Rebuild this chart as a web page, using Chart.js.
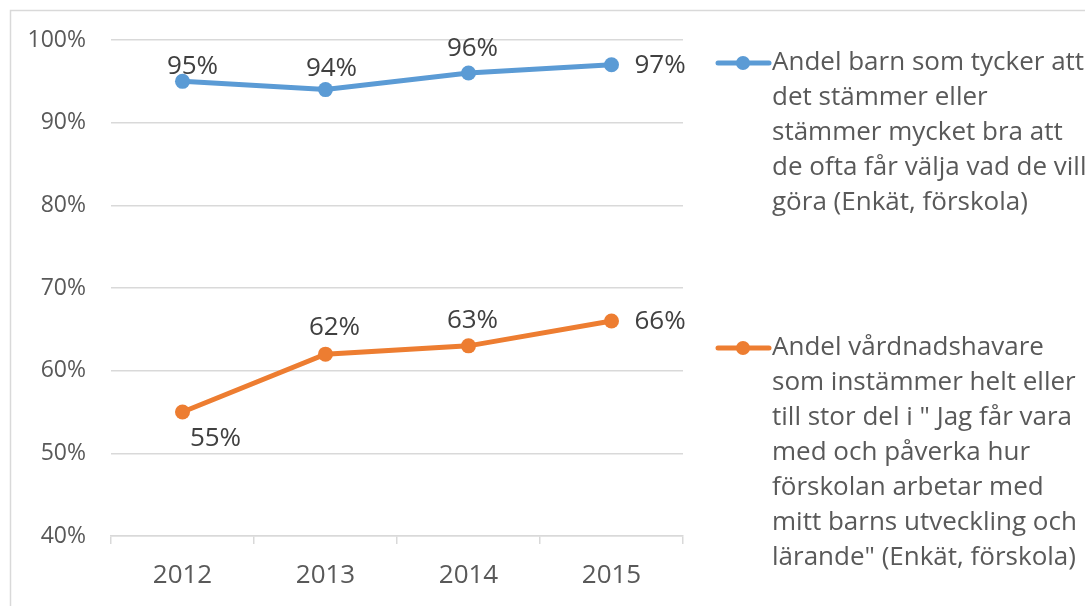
<!DOCTYPE html>
<html>
<head>
<meta charset="utf-8">
<script src="https://cdn.jsdelivr.net/npm/chart.js@4/dist/chart.umd.min.js"></script>
<style>
  html, body { margin: 0; padding: 0; background: #ffffff; }
  #wrap { width: 1085px; height: 606px; position: relative; }
</style>
</head>
<body>
<div id="wrap"><canvas id="c" width="1085" height="606"></canvas></div>
<script>
// ---- data ----
const categories = ['2012', '2013', '2014', '2015'];
const childrenValues = [95, 94, 96, 97];
const guardianValues = [55, 62, 63, 66];
const yTicks = [40, 50, 60, 70, 80, 90, 100];
const childrenLabel = [
  'Andel barn som tycker att',
  'det stämmer eller',
  'stämmer mycket bra att',
  'de ofta får välja vad de vill',
  'göra (Enkät, förskola)'
];
const guardianLabel = [
  'Andel vårdnadshavare',
  'som instämmer helt eller',
  'till stor del i " Jag får vara',
  'med och påverka hur',
  'förskolan arbetar med',
  'mitt barns utveckling och',
  'lärande" (Enkät, förskola)'
];

// ---- styles ----
const FONT = '"Open Sans", "Noto Sans", sans-serif';
const BLUE = '#5B9BD5';
const ORANGE = '#ED7D31';
const GRID = '#d9d9d9';
const TEXT = '#595959';
const LABEL = '#404040';

// label placement per point (style only): pixel offsets from the point
const labelPlacement = [
  [{dx:10, dy:-15, align:'center'}, {dx:6, dy:-21, align:'center'}, {dx:4, dy:-24, align:'center'}, {dx:23, dy:1, align:'left'}],
  [{dx:33, dy:27, align:'center'}, {dx:9, dy:-27, align:'center'}, {dx:4, dy:-25, align:'center'}, {dx:23, dy:1, align:'left'}]
];
const legendAnchors = [63, 348];

const framePlugin = {
  id: 'frame',
  beforeDraw(chart) {
    const ctx = chart.ctx;
    ctx.save();
    ctx.fillStyle = '#ffffff';
    ctx.fillRect(0, 0, chart.width, chart.height);
    ctx.strokeStyle = GRID;
    ctx.lineWidth = 1.5;
    ctx.strokeRect(10.5, 10.5, chart.width + 50, chart.height + 50);
    ctx.restore();
  }
};

const dataLabelPlugin = {
  id: 'dataLabels',
  afterDatasetsDraw(chart) {
    const ctx = chart.ctx;
    ctx.save();
    ctx.font = '26px ' + FONT;
    ctx.fillStyle = LABEL;
    ctx.textBaseline = 'middle';
    chart.data.datasets.forEach((ds, di) => {
      const meta = chart.getDatasetMeta(di);
      meta.data.forEach((pt, i) => {
        const p = labelPlacement[di][i];
        ctx.textAlign = p.align;
        ctx.fillText(ds.data[i] + '%', pt.x + p.dx, pt.y + p.dy);
      });
    });
    ctx.restore();
  }
};

const legendPlugin = {
  id: 'sideLegend',
  afterDraw(chart) {
    const ctx = chart.ctx;
    ctx.save();
    chart.data.datasets.forEach((ds, di) => {
      const y0 = legendAnchors[di];
      ctx.strokeStyle = ds.borderColor;
      ctx.lineWidth = 5;
      ctx.lineCap = 'round';
      ctx.beginPath();
      ctx.moveTo(718, y0);
      ctx.lineTo(769, y0);
      ctx.stroke();
      ctx.fillStyle = ds.borderColor;
      ctx.beginPath();
      ctx.arc(743, y0, 7, 0, Math.PI * 2);
      ctx.fill();
      ctx.font = '26px ' + FONT;
      ctx.fillStyle = TEXT;
      ctx.textAlign = 'left';
      ctx.textBaseline = 'middle';
      ds.legendLines.forEach((line, li) => {
        ctx.fillText(line, 772, y0 + li * 35);
      });
    });
    ctx.restore();
  }
};

new Chart(document.getElementById('c'), {
  type: 'line',
  data: {
    labels: categories,
    datasets: [
      {
        label: childrenLabel.join(' '),
        legendLines: childrenLabel,
        data: childrenValues,
        borderColor: BLUE,
        backgroundColor: BLUE,
        borderWidth: 5,
        pointRadius: 7.5,
        pointHoverRadius: 7.5,
        pointBackgroundColor: BLUE,
        pointBorderWidth: 0,
        tension: 0,
        fill: false
      },
      {
        label: guardianLabel.join(' '),
        legendLines: guardianLabel,
        data: guardianValues,
        borderColor: ORANGE,
        backgroundColor: ORANGE,
        borderWidth: 5,
        pointRadius: 7.5,
        pointHoverRadius: 7.5,
        pointBackgroundColor: ORANGE,
        pointBorderWidth: 0,
        tension: 0,
        fill: false
      }
    ]
  },
  options: {
    responsive: false,
    animation: false,
    devicePixelRatio: 1,
    layout: { padding: { left: 0, right: 402, top: 40, bottom: 0 } },
    plugins: {
      legend: { display: false },
      tooltip: { enabled: false },
      title: { display: false }
    },
    scales: {
      x: {
        type: 'category',
        offset: true,
        grid: {
          offset: true,
          drawOnChartArea: false,
          drawTicks: true,
          tickLength: 8,
          color: GRID,
          lineWidth: 1.5
        },
        border: { display: true, color: GRID, width: 1.5 },
        ticks: {
          color: TEXT,
          font: { family: FONT, size: 26 },
          padding: 16,
          maxRotation: 0
        },
        afterFit(scale) { scale.height = 606 - 536; }
      },
      y: {
        min: 40,
        max: 100,
        afterBuildTicks(scale) { scale.ticks = yTicks.map(v => ({ value: v })); },
        grid: {
          color: GRID,
          lineWidth: 1.5,
          drawTicks: false
        },
        border: { display: false },
        ticks: {
          color: TEXT,
          font: { family: FONT, size: 23 },
          padding: 25,
          callback: v => v + '%'
        },
        afterFit(scale) { scale.width = 111; }
      }
    }
  },
  plugins: [framePlugin, dataLabelPlugin, legendPlugin]
});
</script>
</body>
</html>
